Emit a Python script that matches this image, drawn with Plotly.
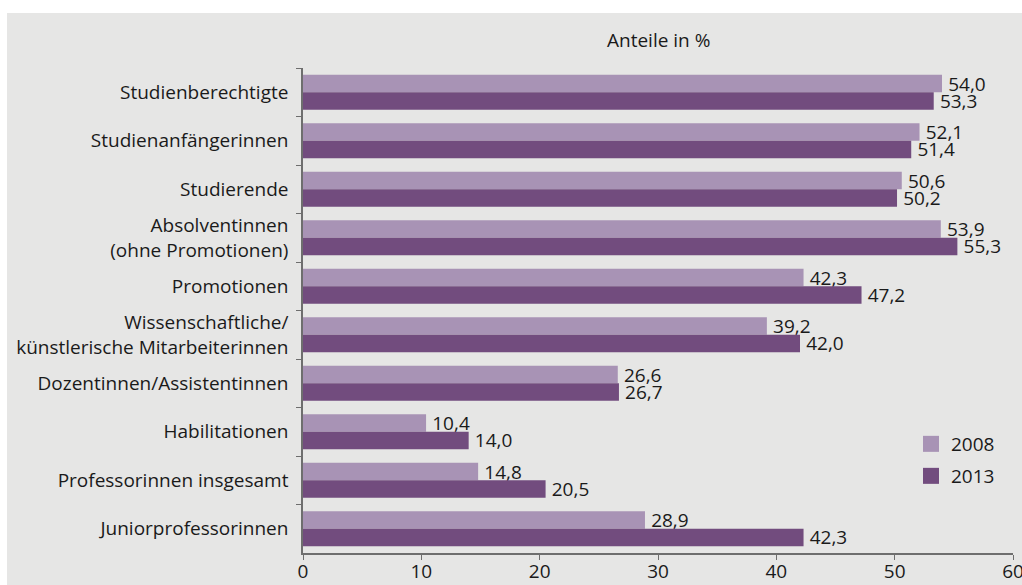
import plotly.graph_objects as go

categories = [
    "Studienberechtigte",
    "Studienanfängerinnen",
    "Studierende",
    "Absolventinnen<br>(ohne Promotionen)",
    "Promotionen",
    "Wissenschaftliche/<br>künstlerische Mitarbeiterinnen",
    "Dozentinnen/Assistentinnen",
    "Habilitationen",
    "Professorinnen insgesamt",
    "Juniorprofessorinnen",
]
values_2008 = [54.0, 52.1, 50.6, 53.9, 42.3, 39.2, 26.6, 10.4, 14.8, 28.9]
values_2013 = [53.3, 51.4, 50.2, 55.3, 47.2, 42.0, 26.7, 14.0, 20.5, 42.3]
series_names = ["2008", "2013"]
x_ticks = [0, 10, 20, 30, 40, 50, 60]

colors = ["#a893b5", "#724c7e"]
FONT = "Open Sans"
FS = 19
TXT = "#1a1a1a"
BG = "#e6e6e5"
AX = "#6e6e6e"

def fmt(v):
    return "\u2009" + f"{v:.1f}".replace(".", ",")

fig = go.Figure()
for name, vals, col in zip(series_names, [values_2008, values_2013], colors):
    fig.add_trace(go.Bar(
        y=categories, x=vals, orientation="h", name=name,
        marker=dict(color=col, line=dict(width=0)),
        text=[fmt(v) for v in vals], textposition="outside",
        textfont=dict(family=FONT, size=FS, color=TXT),
        constraintext="none", cliponaxis=False, showlegend=False,
    ))
for i, (name, col) in enumerate(zip(series_names, colors)):
    fig.add_trace(go.Scatter(
        x=[None], y=[None], mode="markers", name=name,
        marker=dict(symbol="square", size=16, color=col),
        showlegend=True, legend="legend" if i == 0 else "legend2",
    ))

L, R, T, B = 303, 1013, 68, 553
W, H = 1022, 585
pw, ph = R - L, B - T

fig.add_shape(type="rect", xref="paper", yref="paper", layer="below",
              x0=(7 - L) / pw, x1=(W + 5 - L) / pw,
              y0=(B - (H + 5)) / ph, y1=(B - 13) / ph,
              fillcolor=BG, line=dict(width=0))

fig.add_annotation(text="Anteile in %", xref="paper", yref="paper",
                   x=(658 - L) / pw, y=(B - 40) / ph, showarrow=False,
                   xanchor="center", yanchor="middle",
                   font=dict(family=FONT, size=FS, color=TXT))

leg_common = dict(xanchor="left", yanchor="top", bgcolor="rgba(0,0,0,0)",
                  font=dict(family=FONT, size=FS, color=TXT), itemwidth=30)

fig.update_layout(
    width=W, height=H,
    margin=dict(l=L, r=W - R, t=T, b=H - B, pad=0, autoexpand=False),
    paper_bgcolor="white", plot_bgcolor="rgba(0,0,0,0)",
    barmode="group", bargap=0.28, bargroupgap=0,
    font=dict(family=FONT, size=FS, color=TXT),
    legend=dict(x=(911 - L) / pw, y=(B - 425) / ph, **leg_common),
    legend2=dict(x=(911 - L) / pw, y=(B - 457) / ph, **leg_common),
    xaxis=dict(range=[0, 60], tickvals=x_ticks, ticktext=[str(t) for t in x_ticks],
               showgrid=False, zeroline=False, showline=True, linecolor=AX,
               linewidth=1.5, ticks="outside", ticklen=5, tickcolor=AX, tickwidth=1.2,
               automargin=False, ticklabeloverflow="allow", ticklabelstandoff=-5,
               tickfont=dict(family=FONT, size=FS, color=TXT)),
    yaxis=dict(autorange="reversed", showgrid=False, zeroline=False, showline=True,
               linecolor=AX, linewidth=1.5, ticks="outside", ticklen=5,
               tickcolor=AX, tickwidth=1.2, tickson="boundaries", ticklabelstandoff=9,
               automargin=False,
               tickfont=dict(family=FONT, size=FS, color=TXT)),
)

fig.write_html("out.html", config={"displayModeBar": False},
               post_script="document.body.style.margin='0';document.body.style.overflow='hidden';")
